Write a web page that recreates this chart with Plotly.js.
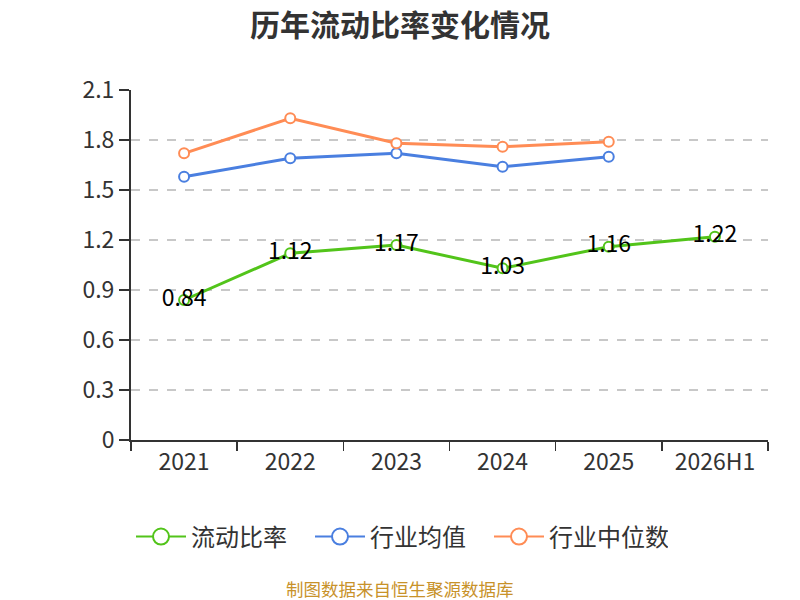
<!DOCTYPE html>
<html>
<head>
<meta charset="utf-8">
<script src="https://cdn.plot.ly/plotly-3.0.1.min.js"></script>
<style>
  body { margin: 0; background: #fff; }
  #chart { width: 800px; height: 600px; }
</style>
</head>
<body>
<div id="chart"></div>
<script>
// data
var years = ['2021', '2022', '2023', '2024', '2025', '2026H1']
var ratio = [0.84, 1.12, 1.17, 1.03, 1.16, 1.22]
var industryAvg = [1.58, 1.69, 1.72, 1.64, 1.70]
var industryMedian = [1.72, 1.93, 1.78, 1.76, 1.79]
var yTicks = [0, 0.3, 0.6, 0.9, 1.2, 1.5, 1.8, 2.1]

var fontFamily = '"Noto Sans CJK SC", "Noto Sans", sans-serif'
var green = '#52c41a'
var blue = '#4a7fe0'
var orange = '#ff8c55'

function lineTrace(name, values, color, withText) {
    var t = {
        type: 'scatter',
        mode: withText ? 'lines+markers+text' : 'lines+markers',
        name: name,
        legendgroup: name,
        showlegend: false,
        x: years.slice(0, values.length),
        y: values,
        line: { color: color, width: 3 },
        marker: { size: 10, color: '#fff', line: { color: color, width: 2 } },
        cliponaxis: false,
    }
    if (withText) {
        t.text = values.map(function (v) { return v.toFixed(2) })
        t.textposition = 'middle center'
        t.textfont = { family: fontFamily, size: 23, color: '#000' }
    }
    return t
}

// legend-only entry with a bigger hollow circle, like the reference legend
function legendEntry(name, color) {
    return {
        type: 'scatter',
        mode: 'lines+markers',
        name: name,
        legendgroup: name,
        x: [years[0]],
        y: [null],
        line: { color: color, width: 2 },
        marker: { size: 16, color: '#fff', line: { color: color, width: 2 } },
    }
}

var data = [
    lineTrace('流动比率', ratio, green, true),
    lineTrace('行业均值', industryAvg, blue, false),
    lineTrace('行业中位数', industryMedian, orange, false),
    legendEntry('流动比率', green),
    legendEntry('行业均值', blue),
    legendEntry('行业中位数', orange),
]

var layout = {
    width: 800,
    height: 600,
    margin: { l: 131, r: 32, t: 90, b: 160 },
    paper_bgcolor: '#fff',
    plot_bgcolor: '#fff',
    font: { family: fontFamily, color: '#333' },
    title: {
        text: '<b>历年流动比率变化情况</b>',
        x: 0.5,
        xanchor: 'center',
        y: 0.958,
        yanchor: 'middle',
        font: { family: fontFamily, size: 30, color: '#333' },
    },
    xaxis: {
        type: 'category',
        range: [-0.5, 5.5],
        automargin: false,
        showline: true,
        linecolor: '#333',
        linewidth: 2,
        ticks: 'outside',
        tickson: 'boundaries',
        ticklen: 9,
        tickwidth: 1.5,
        tickcolor: '#333',
        tickangle: 0,
        showgrid: false,
        tickfont: { family: fontFamily, size: 23, color: '#333' },
    },
    yaxis: {
        range: [0, 2.1],
        automargin: false,
        tickvals: yTicks,
        ticktext: yTicks.map(function (v) { return String(v) }),
        showline: true,
        linecolor: '#333',
        linewidth: 2,
        ticks: 'outside',
        ticklen: 10,
        tickwidth: 1.5,
        tickcolor: '#333',
        showgrid: true,
        gridcolor: '#c8c8c8',
        griddash: 'dash',
        gridwidth: 1.5,
        zeroline: false,
        tickfont: { family: fontFamily, size: 23, color: '#333' },
    },
    showlegend: true,
    legend: {
        orientation: 'h',
        x: 0,
        xanchor: 'left',
        y: -0.277,
        yanchor: 'middle',
        font: { family: fontFamily, size: 24, color: '#333' },
        itemwidth: 50,
        entrywidth: 114,
        entrywidthmode: 'pixels',
    },
    annotations: [
        {
            text: '制图数据来自恒生聚源数据库',
            xref: 'paper',
            yref: 'paper',
            x: (400 - 131) / 637,
            xanchor: 'center',
            y: -0.424,
            yanchor: 'middle',
            showarrow: false,
            font: { family: fontFamily, size: 17.5, color: '#c8922a' },
        },
    ],
}

Plotly.newPlot('chart', data, layout, { displayModeBar: false, staticPlot: true })
</script>
</body>
</html>
